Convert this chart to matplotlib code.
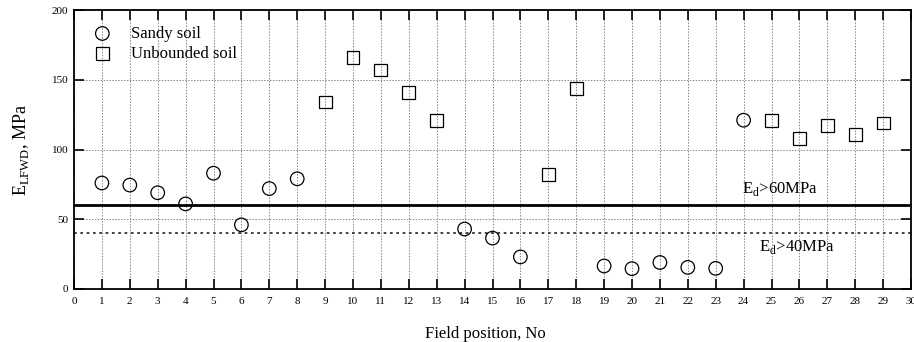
import matplotlib
matplotlib.use("Agg")
import matplotlib.pyplot as plt

plt.rcParams['font.family'] = ['Liberation Serif', 'DejaVu Serif']
plt.rcParams['mathtext.fontset'] = 'custom'
plt.rcParams['mathtext.rm'] = 'Liberation Serif'

sandy_x = [1, 2, 3, 4, 5, 6, 7, 8, 14, 15, 16, 19, 20, 21, 22, 23, 24]
sandy_y = [76, 74.5, 69, 61, 83, 46, 72, 79, 43, 36.5, 23, 16.5, 14.6, 19, 15.5, 14.8, 121]
unb_x = [9, 10, 11, 12, 13, 17, 18, 25, 26, 27, 28, 29]
unb_y = [134, 166, 157, 141, 121, 82, 144, 121, 107.7, 117, 110.6, 119]
limit_hi = 60
limit_lo = 40

fig = plt.figure(figsize=(9.14, 3.42), dpi=100)
ax = fig.add_axes([74/914, 1-289/342, (911-74)/914, (289-10)/342])

ax.set_xlim(0, 30)
ax.set_ylim(0, 200)
ax.set_xticks(range(0, 31))
ax.set_yticks([0, 50, 100, 150, 200])
ax.grid(True, color='#888888', linestyle=(0, (1.5, 1.5)), linewidth=0.7)
ax.set_axisbelow(True)

ax.axhline(limit_hi, color='black', linewidth=2)
ax.axhline(limit_lo, color='#333333', linewidth=1.3, linestyle=(0, (1.5, 2)))

ax.scatter(sandy_x, sandy_y, marker='o', s=95, facecolors='none', edgecolors='black', linewidths=0.9, label='Sandy soil', zorder=3)
ax.scatter(unb_x, unb_y, marker='s', s=85, facecolors='none', edgecolors='black', linewidths=0.9, label='Unbounded soil', zorder=3)

ax.text(23.95, 69, r'E$_{\mathrm{d}}$>60MPa', fontsize=12)
ax.text(24.55, 27, r'E$_{\mathrm{d}}$>40MPa', fontsize=12)

ax.tick_params(axis='both', direction='in', length=7, width=1.2, labelsize=8,
               top=True, right=True, pad=6)
ax.tick_params(axis='y', pad=4)
for s in ax.spines.values():
    s.set_linewidth(1.3)

ax.set_xlabel('Field position, No', fontsize=12, labelpad=14)
ax.xaxis.label.set_x(0.492)
ax.set_ylabel(r'E$_{\mathrm{LFWD}}$, MPa', fontsize=13, labelpad=15)

leg = ax.legend(loc='upper left', frameon=False, fontsize=12, handletextpad=0.7,
                borderaxespad=0.3, bbox_to_anchor=(0.0, 0.985), labelspacing=0.22)

fig.savefig('out.png', dpi=100)
